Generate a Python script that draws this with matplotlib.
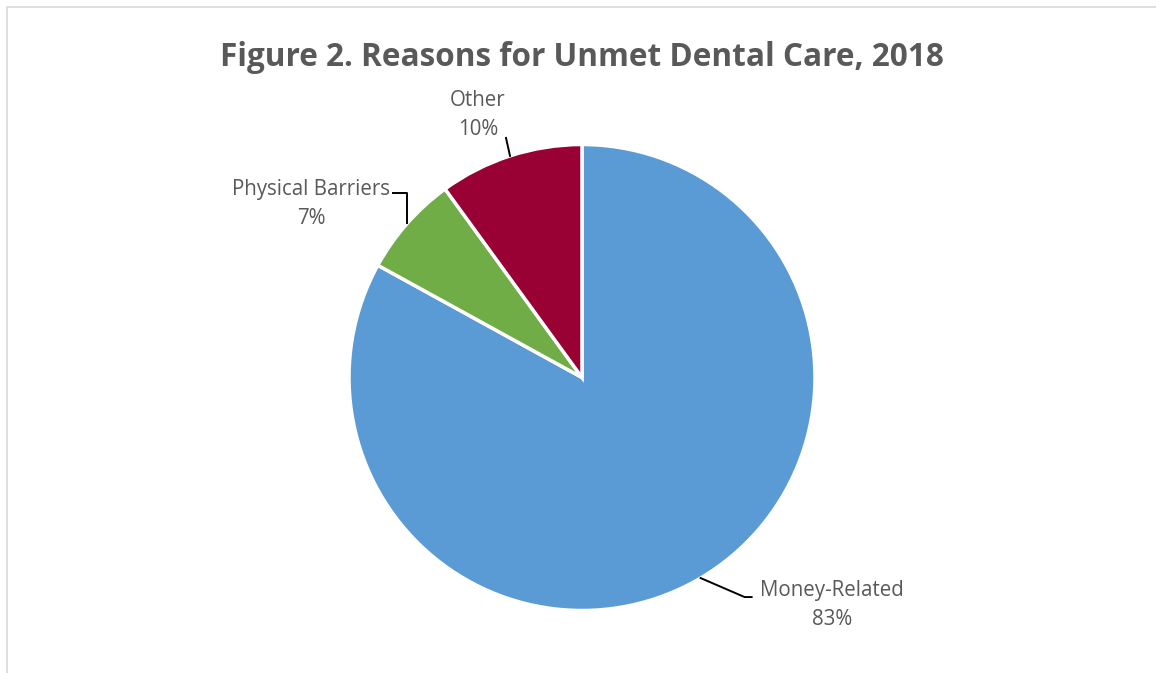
import numpy as np
import matplotlib.pyplot as plt
from matplotlib.patches import Rectangle

categories = ['Money-Related', 'Physical Barriers', 'Other']
shares = [83, 7, 10]
colors = ['#5B9BD5', '#70AD47', '#990033']
title = 'Figure 2. Reasons for Unmet Dental Care, 2018'

W, H = 1156, 673
plt.rcParams['font.family'] = ['Open Sans', 'DejaVu Sans']
fig = plt.figure(figsize=(W / 100, H / 100), dpi=100)
ax = fig.add_axes([0, 0, 1, 1])
ax.set_xlim(0, W)
ax.set_ylim(0, H)
ax.set_aspect('equal')
ax.axis('off')

# light frame around the chart area (cut off right/bottom like the original)
ax.add_patch(Rectangle((7, -20), W + 20, H - 7 + 20, fill=False,
                       edgecolor='#D9D9D9', linewidth=1.2))

cx, cy, r = 582, H - 377.5, 233
wedges, _ = ax.pie(shares, colors=colors, startangle=90, counterclock=False,
                   center=(cx, cy), radius=r,
                   wedgeprops=dict(edgecolor='white', linewidth=2.5))
ax.set_xlim(0, W)
ax.set_ylim(0, H)

ax.text(W / 2 + 4, H - 57, title, ha='center', va='center', fontsize=22.7,
        fontweight='bold', color='#595959')

txt = dict(color='#595959', fontsize=14.8, ha='center', va='center',
           linespacing=1.5)


def edge_point(w):
    ang = np.deg2rad((w.theta1 + w.theta2) / 2)
    return cx + r * np.cos(ang), cy + r * np.sin(ang)


# Money-Related
x0, y0 = edge_point(wedges[0])
ax.plot([x0, x0 + 44, x0 + 51], [y0, y0 - 19, y0 - 19], color='black', lw=1.4)
ax.text(832, H - 605, f'{categories[0]}\n{shares[0]}%', **txt)

# Physical Barriers
x1, y1 = edge_point(wedges[1])
ax.plot([x1, x1, x1 - 14], [y1, y1 + 30, y1 + 30], color='black', lw=1.4)
ax.text(311, H - 204, f'{categories[1]}\n{shares[1]}%', **txt)

# Other
x2, y2 = edge_point(wedges[2])
ax.plot([x2, x2 - 4], [y2, y2 + 18], color='black', lw=1.4)
ax.text(478, H - 115, f'{categories[2]}\n{shares[2]}%', **txt)

fig.savefig('out.png', dpi=100)
